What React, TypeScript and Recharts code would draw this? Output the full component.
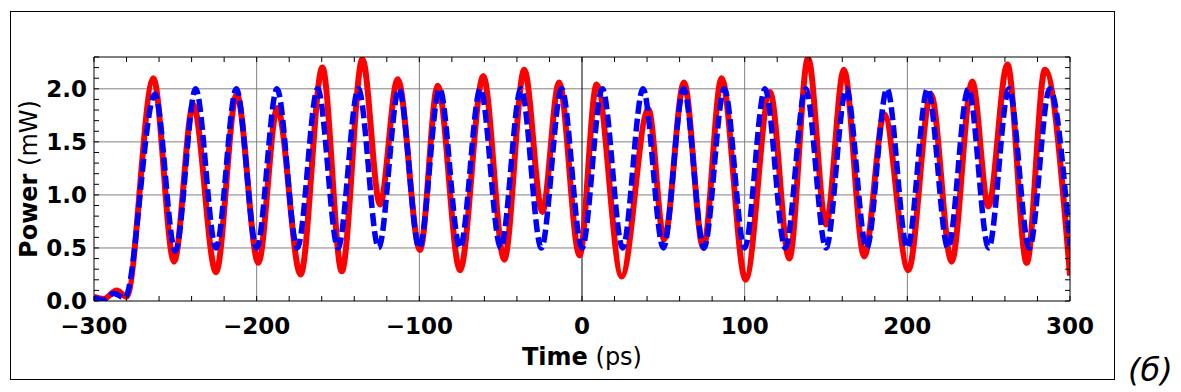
import React from 'react';
import { LineChart, Line, XAxis, YAxis, ReferenceLine, Label } from 'recharts';

// red (solid) trace: time in ps, power in mW
const redTime = [
  -300, -294, -286, -280, -263.5, -250.8, -239, -225, -212.3, -199, -187.3, -173,
  -159.6, -147.7, -135, -124.2, -113.3, -99.6, -88.7, -75, -60.7, -47.8, -35.5, -24.4,
  -14.1, -1.5, 9, 24.4, 40.8, 50.5, 62.7, 74.6, 85.8, 100.6, 115.6, 127.4, 139, 150,
  161, 173.5, 185.8, 200.6, 214.5, 227.2, 239.9, 249.8, 261.5, 273.4, 284.6, 300,
];
const redPower = [
  0.04, 0.02, 0.1, 0.04, 2.1, 0.37, 1.85, 0.27, 1.95, 0.36, 1.82, 0.25,
  2.2, 0.28, 2.28, 0.91, 2.09, 0.48, 2.03, 0.29, 2.12, 0.39, 2.18, 0.84,
  2.06, 0.43, 2.04, 0.23, 1.81, 0.58, 2.06, 0.5, 2.1, 0.2, 1.97, 0.4, 2.29, 0.72,
  2.18, 0.42, 1.76, 0.29, 1.95, 0.37, 2.07, 0.89, 2.23, 0.36, 2.18, 0.24,
];

// blue (dashed) trace
const blueTime = [
  -300, -294, -288, -281, -262.5, -250, -237.5, -225, -212.5, -200, -187.5, -175,
  -162.5, -150, -137.5, -125, -112.5, -100, -87.5, -75, -62.5, -50, -37.5, -25,
  -12.5, 0, 12.5, 25, 37.5, 50, 62.5, 75, 87.5, 100, 112.5, 125, 137.5, 150,
  162.5, 175, 187.5, 200, 212.5, 225, 237.5, 250, 262.5, 275, 287.5, 300,
];
const bluePower = [
  0.03, 0.01, 0.07, 0.03, 1.95, 0.47, 2.0, 0.5, 2.0, 0.5, 2.0, 0.5,
  2.0, 0.5, 2.0, 0.5, 2.0, 0.5, 2.0, 0.5, 2.0, 0.5, 2.0, 0.5,
  2.0, 0.5, 2.0, 0.5, 2.0, 0.5, 2.0, 0.5, 2.0, 0.5, 2.0, 0.5, 2.0, 0.5,
  2.0, 0.5, 2.0, 0.5, 2.0, 0.5, 2.0, 0.5, 2.0, 0.5, 2.0, 0.52,
];

const xTicks = [
  -300, -280, -260, -240, -220, -200, -180, -160, -140, -120, -100, -80, -60, -40, -20,
  0, 20, 40, 60, 80, 100, 120, 140, 160, 180, 200, 220, 240, 260, 280, 300,
];
const yTicks = [
  0, 0.1, 0.2, 0.3, 0.4, 0.5, 0.6, 0.7, 0.8, 0.9, 1.0, 1.1,
  1.2, 1.3, 1.4, 1.5, 1.6, 1.7, 1.8, 1.9, 2.0, 2.1, 2.2, 2.3,
];
const xGrid = [-200, -100, 100, 200];
const yGrid = [0.5, 1.0, 1.5, 2.0];

const redData = redTime.map((t, i) => ({ t, p: redPower[i] }));
const blueData = blueTime.map((t, i) => ({ t, p: bluePower[i] }));

const FONT = '"DejaVu Sans", Verdana, sans-serif';
const TICK_LEN = 5;

const isMajorX = (v: number) => Math.abs(v) % 100 === 0;
const isMajorY = (v: number) => Math.abs(v * 2 - Math.round(v * 2)) < 1e-6;
const fmtX = (v: number) => (v < 0 ? `\u2212${Math.abs(v)}` : `${v}`);

const BottomTick = ({ x, y, payload }: any) => (
  <g>
    <line x1={x} x2={x} y1={y} y2={y - TICK_LEN} stroke="#000" />
    {isMajorX(payload.value) && (
      <text x={x} y={y + 33} textAnchor="middle" fontFamily={FONT} fontSize={23} fontWeight="bold" fill="#000">
        {fmtX(payload.value)}
      </text>
    )}
  </g>
);

const TopTick = ({ x, y }: any) => <line x1={x} x2={x} y1={y} y2={y + TICK_LEN} stroke="#000" />;

const LeftTick = ({ x, y, payload }: any) => (
  <g>
    <line x1={x} x2={x + TICK_LEN} y1={y} y2={y} stroke="#000" />
    {isMajorY(payload.value) && (
      <text x={x - 7} y={y + 8} textAnchor="end" fontFamily={FONT} fontSize={23} fontWeight="bold" fill="#000">
        {payload.value.toFixed(1)}
      </text>
    )}
  </g>
);

const RightTick = ({ x, y }: any) => <line x1={x} x2={x - TICK_LEN} y1={y} y2={y} stroke="#000" />;

const XTitle = ({ viewBox }: any) => (
  <text x={viewBox.x + viewBox.width / 2} y={viewBox.y + 64} textAnchor="middle" fontFamily={FONT} fontSize={24} fill="#000">
    <tspan fontWeight="bold">Time</tspan>
    <tspan> (ps)</tspan>
  </text>
);

const YTitle = ({ viewBox }: any) => {
  const cx = 37;
  const cy = viewBox.y + viewBox.height / 2;
  return (
    <text x={cx} y={cy} transform={`rotate(-90 ${cx} ${cy})`} textAnchor="middle" fontFamily={FONT} fontSize={24} fill="#000">
      <tspan fontWeight="bold">Power</tspan>
      <tspan> (mW)</tspan>
    </text>
  );
};

const App = () => (
  <div style={{ position: 'absolute', left: 0, top: 0, width: 1181, height: 392, background: '#fff' }}>
    <div
      style={{
        position: 'absolute', left: 10, top: 11, width: 1105, height: 369,
        border: '1px solid #000', boxSizing: 'border-box', pointerEvents: 'none',
      }}
    />
    <div style={{ position: 'absolute', left: 0, top: 0 }}>
      <LineChart width={1181} height={392} margin={{ top: 56, right: 110, bottom: 31, left: 10 }}>
        <XAxis
          dataKey="t" type="number" domain={[-300, 300]} allowDataOverflow ticks={xTicks} interval={0}
          tickSize={0} tickMargin={0} tickLine={false} tick={<BottomTick />} height={60}
          axisLine={{ stroke: '#000' }}
        >
          <Label content={<XTitle />} />
        </XAxis>
        <XAxis
          xAxisId="top" orientation="top" dataKey="t" type="number" domain={[-300, 300]} allowDataOverflow
          ticks={xTicks} interval={0} tickSize={0} tickMargin={0} tickLine={false} tick={<TopTick />}
          height={1} axisLine={{ stroke: '#000' }}
        />
        <YAxis
          type="number" domain={[0, 2.3]} allowDataOverflow ticks={yTicks} interval={0}
          tickSize={0} tickMargin={0} tickLine={false} tick={<LeftTick />} width={84}
          axisLine={{ stroke: '#000' }}
        >
          <Label content={<YTitle />} />
        </YAxis>
        <YAxis
          yAxisId="right" orientation="right" type="number" domain={[0, 2.3]} allowDataOverflow
          ticks={yTicks} interval={0} tickSize={0} tickMargin={0} tickLine={false} tick={<RightTick />}
          width={1} axisLine={{ stroke: '#000' }}
        />
        {xGrid.map((v) => (
          <ReferenceLine key={`gx${v}`} x={v} stroke="#808080" strokeWidth={1} />
        ))}
        {yGrid.map((v) => (
          <ReferenceLine key={`gy${v}`} y={v} stroke="#808080" strokeWidth={1} />
        ))}
        <ReferenceLine x={0} stroke="#000" strokeWidth={1} />
        <Line
          data={redData} dataKey="p" type="monotone" stroke="#ff0000" strokeWidth={6}
          dot={false} activeDot={false} isAnimationActive={false}
        />
        <Line
          data={blueData} dataKey="p" type="monotone" stroke="#0000ff" strokeWidth={5.5}
          strokeDasharray="13 5" dot={false} activeDot={false} isAnimationActive={false}
        />
      </LineChart>
    </div>
    <div
      style={{
        position: 'absolute', left: 1128, top: 350, fontFamily: FONT, fontSize: 32,
        fontStyle: 'italic', lineHeight: '40px', color: '#000',
      }}
    >
      (б)
    </div>
  </div>
);

export default App;
